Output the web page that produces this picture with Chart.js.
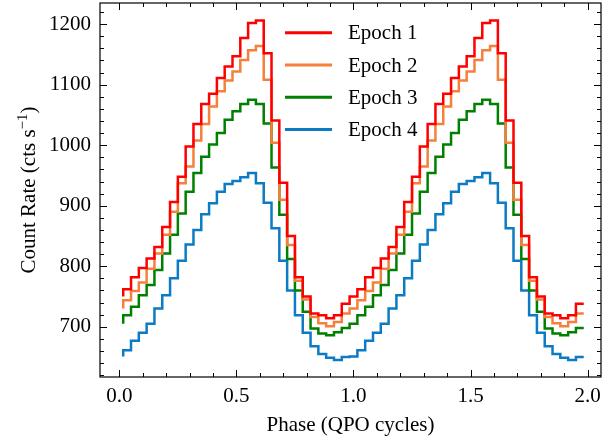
<!DOCTYPE html>
<html>
<head>
<meta charset="utf-8">
<script src="https://cdn.jsdelivr.net/npm/chart.js@4.4.1/dist/chart.umd.min.js"></script>
<style>
  html, body { margin: 0; padding: 0; background: #ffffff; }
  #wrap { width: 603px; height: 441px; }
</style>
</head>
<body>
<div id="wrap"><canvas id="c" width="603" height="441"></canvas></div>
<script>
// Folded QPO profile: 30 phase bins per cycle, shown over two cycles.
const binsPerCycle = 30;
const cycleCount = 2;

// Count rate per phase bin (cts/s), one cycle each.
const epoch1 = [750, 762, 782, 797, 813, 832, 865, 906, 948, 998, 1035, 1068, 1085, 1111, 1130, 1147, 1177, 1202, 1206, 1152, 1041, 938, 850, 782, 750, 722, 719, 714, 719, 738];
const epoch2 = [730, 744, 759, 773, 796, 821, 852, 890, 937, 965, 1008, 1035, 1064, 1089, 1107, 1122, 1141, 1157, 1164, 1108, 1004, 910, 835, 776, 745, 716, 706, 701, 708, 722];
const epoch3 = [705, 719, 733, 752, 769, 794, 821, 852, 887, 923, 954, 981, 1001, 1020, 1042, 1056, 1068, 1075, 1068, 1036, 963, 885, 812, 760, 725, 697, 689, 686, 691, 698];
const epoch4 = [651, 661, 677, 690, 705, 730, 752, 780, 809, 836, 860, 886, 904, 923, 936, 941, 947, 954, 937, 905, 863, 809, 760, 719, 690, 668, 655, 649, 645, 650];

const seriesLabels = ['Epoch 1', 'Epoch 2', 'Epoch 3', 'Epoch 4'];
const seriesColors = ['#ff0000', '#f4803c', '#008000', '#0c7bc4'];

const xMajorTicks = [0.0, 0.5, 1.0, 1.5, 2.0];
const yMajorTicks = [700, 800, 900, 1000, 1100, 1200];
const xMinorStep = 0.1;
const yMinorStep = 20;

const FONT = '"Liberation Serif", "Times New Roman", serif';

// Bin-centre phases across both cycles
const phase = [];
for (let k = 0; k < binsPerCycle * cycleCount; k++) phase.push((2 * k + 1) / (2 * binsPerCycle));

function repeatCycles(profile) {
  let out = [];
  for (let c = 0; c < cycleCount; c++) out = out.concat(profile);
  return out;
}

const profiles = [epoch1, epoch2, epoch3, epoch4];
const datasets = profiles.map((p, i) => ({
  label: seriesLabels[i],
  data: repeatCycles(p).map((v, k) => ({ x: phase[k], y: v })),
  borderColor: seriesColors[i],
  backgroundColor: seriesColors[i],
  borderWidth: 2.5,
  // vertical step at each point, value held up to the next point (step "pre")
  stepped: 'after',
  pointRadius: 0,
  fill: false,
  borderJoinStyle: 'miter',
  borderCapStyle: 'butt'
}));

function noScalePadding(s) {
  s.paddingTop = 0; s.paddingBottom = 0; s.paddingLeft = 0; s.paddingRight = 0;
}

// Frame, inward ticks on all four sides, legend and y-axis label
const decorPlugin = {
  id: 'decor',
  afterDatasetsDraw(chart) {
    const { ctx, chartArea: a, scales: { x, y } } = chart;
    ctx.save();
    ctx.strokeStyle = '#000';
    ctx.lineWidth = 1.2;
    ctx.strokeRect(a.left, a.top, a.right - a.left, a.bottom - a.top);

    ctx.lineWidth = 1;
    const majorLen = 7, minorLen = 4;
    ctx.beginPath();
    // x ticks
    for (let t = Math.ceil(x.min / xMinorStep); t * xMinorStep <= x.max + 1e-9; t++) {
      const v = t * xMinorStep;
      const isMajor = xMajorTicks.some(m => Math.abs(m - v) < 1e-6);
      const len = isMajor ? majorLen : minorLen;
      const px = Math.round(x.getPixelForValue(v)) + 0.5;
      ctx.moveTo(px, a.bottom); ctx.lineTo(px, a.bottom - len);
      ctx.moveTo(px, a.top); ctx.lineTo(px, a.top + len);
    }
    // y ticks
    for (let t = Math.ceil(y.min / yMinorStep); t * yMinorStep <= y.max; t++) {
      const v = t * yMinorStep;
      const isMajor = yMajorTicks.includes(v);
      const len = isMajor ? majorLen : minorLen;
      const py = Math.round(y.getPixelForValue(v)) + 0.5;
      ctx.moveTo(a.left, py); ctx.lineTo(a.left + len, py);
      ctx.moveTo(a.right, py); ctx.lineTo(a.right - len, py);
    }
    ctx.stroke();

    // legend
    const lx0 = 285, lx1 = 332, tx = 348, ly0 = 32.7, dy = 32.3;
    ctx.font = '21px ' + FONT;
    ctx.textBaseline = 'middle';
    ctx.textAlign = 'left';
    chart.data.datasets.forEach((ds, i) => {
      const yy = ly0 + i * dy;
      ctx.strokeStyle = ds.borderColor;
      ctx.lineWidth = 3;
      ctx.beginPath();
      ctx.moveTo(lx0, yy); ctx.lineTo(lx1, yy);
      ctx.stroke();
      ctx.fillStyle = '#000';
      ctx.fillText(ds.label, tx, yy + 1);
    });

    // y-axis label with superscript
    const cy = (a.top + a.bottom) / 2;
    ctx.translate(28, cy);
    ctx.rotate(-Math.PI / 2);
    ctx.fillStyle = '#000';
    ctx.textBaseline = 'alphabetic';
    const mainFont = '21px ' + FONT, supFont = '15px ' + FONT;
    const p1 = 'Count Rate (cts s', p2 = '\u22121', p3 = ')';
    ctx.font = mainFont; const w1 = ctx.measureText(p1).width, w3 = ctx.measureText(p3).width;
    ctx.font = supFont; const w2 = ctx.measureText(p2).width;
    let sx = -(w1 + w2 + w3) / 2;
    const base = 7;
    ctx.font = mainFont; ctx.fillText(p1, sx, base); sx += w1;
    ctx.font = supFont; ctx.fillText(p2, sx, base - 8); sx += w2;
    ctx.font = mainFont; ctx.fillText(p3, sx, base);
    ctx.restore();
  }
};

new Chart(document.getElementById('c'), {
  type: 'line',
  data: { datasets },
  options: {
    responsive: false,
    animation: false,
    devicePixelRatio: 1,
    layout: { padding: { top: 3, right: 2, left: 0, bottom: 0 } },
    plugins: { legend: { display: false }, tooltip: { enabled: false } },
    scales: {
      x: {
        type: 'linear',
        min: -0.0825,
        max: 2.057,
        afterFit(s) { s.height = 64; noScalePadding(s); },
        afterBuildTicks(s) { s.ticks = xMajorTicks.map(v => ({ value: v })); },
        grid: { display: false, drawTicks: false },
        border: { display: false },
        ticks: {
          color: '#000',
          font: { family: FONT, size: 21 },
          padding: 7,
          maxRotation: 0,
          callback: v => Number(v).toFixed(1)
        },
        title: {
          display: true,
          text: 'Phase (QPO cycles)',
          color: '#000',
          font: { family: FONT, size: 21 },
          padding: { top: 0, bottom: 3 }
        }
      },
      y: {
        type: 'linear',
        min: 617,
        max: 1235,
        afterFit(s) { s.width = 100; noScalePadding(s); },
        afterBuildTicks(s) { s.ticks = yMajorTicks.map(v => ({ value: v })); },
        grid: { display: false, drawTicks: false },
        border: { display: false },
        ticks: {
          color: '#000',
          font: { family: FONT, size: 21 },
          padding: 9,
          callback: v => String(v)
        }
      }
    }
  },
  plugins: [decorPlugin]
});
</script>
</body>
</html>
